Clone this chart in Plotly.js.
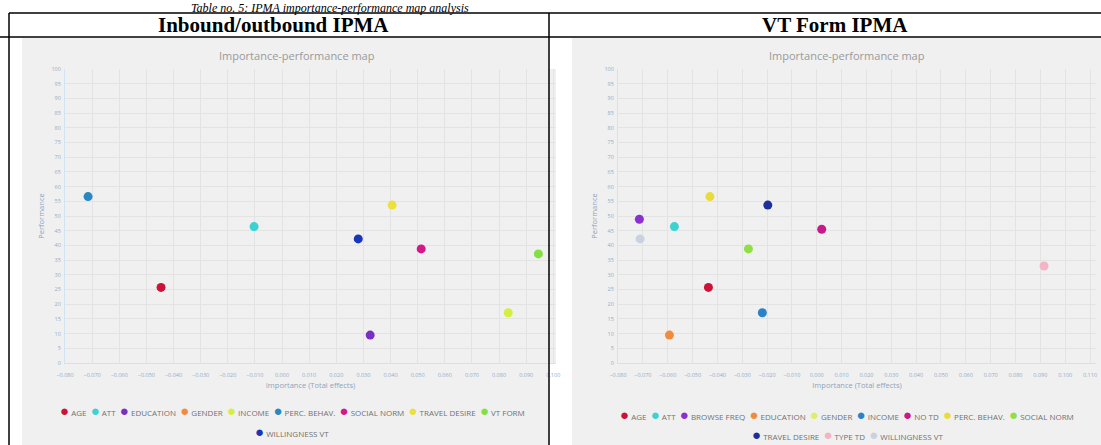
<!DOCTYPE html>
<html>
<head>
<meta charset="utf-8">
<script src="https://cdn.plot.ly/plotly-3.0.1.min.js"></script>
<style>
html,body{margin:0;padding:0;background:#fff;}
#chart{width:1101px;height:445px;}
</style>
</head>
<body>
<div id="chart"></div>
<script>
// ---------- data ----------
const captionText = 'Table no. 5: IPMA importance-performance map analysis';
const leftHeader = 'Inbound/outbound IPMA';
const rightHeader = 'VT Form IPMA';
const chartTitle = 'Importance-performance map';
const xTitle = 'Importance (Total effects)';
const yTitle = 'Performance';

const leftNames = ['AGE','ATT','EDUCATION','GENDER','INCOME','PERC. BEHAV.','SOCIAL NORM','TRAVEL DESIRE','VT FORM','WILLINGNESS VT'];
const leftImportance = [-0.0446, -0.0103, 0.0325, null, 0.0834, -0.0715, 0.0513, 0.0406, 0.0945, 0.0281];
const leftPerformance = [25.7, 46.4, 9.5, null, 17.1, 56.6, 38.8, 53.7, 37.1, 42.2];
const leftColors = ['#cc1238','#3cd2d2','#7a2fc4','#f08c3c','#d6ef3e','#2a88c0','#d4178a','#ece03e','#84e042','#1a36b8'];

const rightNames = ['AGE','ATT','BROWSE FREQ','EDUCATION','GENDER','INCOME','NO TD','PERC. BEHAV.','SOCIAL NORM','TRAVEL DESIRE','TYPE TD','WILLINGNESS VT'];
const rightImportance = [-0.0436, -0.0573, -0.0714, -0.0593, null, -0.0219, 0.0020, -0.0430, -0.0275, -0.0197, 0.0915, -0.0711];
const rightPerformance = [25.7, 46.4, 48.9, 9.5, null, 17.1, 45.5, 56.6, 38.8, 53.7, 33.0, 42.2];
const rightColors = ['#cc1238','#3cd2d2','#8a2fd0','#f08c3c','#dcef6a','#2a82c8','#c8188a','#e8dc3c','#8ee046','#1e2e9a','#f3b4c6','#c9d3df'];

// ---------- helpers ----------
const W = 1101, H = 445;
const px = x => x / W;
const py = y => 1 - y / H;

const traces = [];
function addSeries(names, xs, ys, colors, xa, ya) {
  names.forEach((n, i) => {
    traces.push({
      type: 'scatter', mode: 'markers', name: n,
      x: [xs[i]], y: [ys[i]], xaxis: xa, yaxis: ya,
      marker: {color: colors[i], size: 9},
      showlegend: false, hoverinfo: 'name+x+y'
    });
  });
}
addSeries(leftNames, leftImportance, leftPerformance, leftColors, 'x', 'y');
addSeries(rightNames, rightImportance, rightPerformance, rightColors, 'x2', 'y2');

function legendRows(names, colors, perRow) {
  const rows = [];
  for (let s = 0; s < names.length; s += perRow) {
    rows.push(names.slice(s, s + perRow).map((n, k) =>
      `<span style="color:${colors[s + k]};font-size:15px">●</span> ${n}`).join('  '));
  }
  return rows;
}

const tickFont = {family: 'Open Sans', size: 5.5, color: '#93acc8'};
const titleFont = {family: 'Open Sans', size: 7.5, color: '#8ea3bd'};
function xAxis(domain, range) {
  return {domain, range, dtick: 0.01, tick0: 0, tickformat: '.3f', tickfont: tickFont,
    showgrid: true, gridcolor: '#e3e3e3', gridwidth: 1, zeroline: false,
    showline: true, linecolor: '#f2d8c6', linewidth: 1,
    ticks: 'outside', ticklen: 6, tickcolor: 'rgba(0,0,0,0)',
    title: {text: xTitle, font: titleFont, standoff: 5}, fixedrange: true};
}
function yAxis(domain, anchor) {
  return {domain, range: [0, 100], dtick: 5, tickfont: tickFont, anchor,
    showgrid: true, gridcolor: '#e3e3e3', zeroline: false,
    showline: true, linecolor: '#d3e2f0', linewidth: 1,
    ticks: 'outside', ticklen: 2, tickcolor: 'rgba(0,0,0,0)',
    title: {text: yTitle, font: titleFont, standoff: 5}, fixedrange: true};
}

const yDom = [py(363), py(69)];
const layout = {
  width: W, height: H,
  margin: {l: 0, r: 0, t: 0, b: 0},
  paper_bgcolor: '#ffffff', plot_bgcolor: '#f0f0f0',
  showlegend: false,
  font: {family: 'Open Sans'},
  xaxis: xAxis([px(65), px(556)], [-0.08, 0.101]),
  yaxis: yAxis(yDom, 'x'),
  xaxis2: Object.assign(xAxis([px(618), px(1096)], [-0.08, 0.1124]), {anchor: 'y2'}),
  yaxis2: yAxis(yDom, 'x2'),
  shapes: [
    // screenshot backgrounds
    {type: 'rect', xref: 'paper', yref: 'paper', x0: px(22), x1: px(548), y0: py(445), y1: py(38), fillcolor: '#f0f0f0', line: {width: 0}, layer: 'below'},
    {type: 'rect', xref: 'paper', yref: 'paper', x0: px(572), x1: px(1101), y0: py(445), y1: py(38), fillcolor: '#f0f0f0', line: {width: 0}, layer: 'below'},
    // table lines
    {type: 'line', xref: 'paper', yref: 'paper', x0: px(9), x1: 1, y0: py(13), y1: py(13), line: {color: '#000', width: 1.5}},
    {type: 'line', xref: 'paper', yref: 'paper', x0: 0, x1: 1, y0: py(37), y1: py(37), line: {color: '#000', width: 1.5}},
    {type: 'line', xref: 'paper', yref: 'paper', x0: px(9), x1: px(9), y0: py(13), y1: 0, line: {color: '#000', width: 1.5}},
    {type: 'line', xref: 'paper', yref: 'paper', x0: px(549), x1: px(549), y0: py(13), y1: 0, line: {color: '#000', width: 1.5}}
  ],
  annotations: []
};

const ann = layout.annotations;
ann.push({text: captionText, xref: 'paper', yref: 'paper', x: px(330), y: 1, xanchor: 'center', yanchor: 'top', showarrow: false, borderpad: 0,
  font: {family: 'Liberation Serif', size: 12, color: '#000', style: 'italic'}});
ann.push({text: '<b>' + leftHeader + '</b>', xref: 'paper', yref: 'paper', x: px(273), y: py(25), xanchor: 'center', yanchor: 'middle', showarrow: false,
  font: {family: 'Liberation Serif', size: 21, color: '#000'}});
ann.push({text: '<b>' + rightHeader + '</b>', xref: 'paper', yref: 'paper', x: px(835), y: py(25), xanchor: 'center', yanchor: 'middle', showarrow: false,
  font: {family: 'Liberation Serif', size: 21, color: '#000'}});
[[297], [847]].forEach(([cx]) => ann.push({text: chartTitle, xref: 'paper', yref: 'paper', x: px(cx), y: py(56), xanchor: 'center', yanchor: 'middle', showarrow: false,
  font: {family: 'Open Sans', size: 11, color: '#9a9a9a'}}));

const legFont = {family: 'Open Sans', size: 8, color: '#707070'};
legendRows(leftNames, leftColors, 9).forEach((t, r) => ann.push({text: t, xref: 'paper', yref: 'paper', x: px(292), y: py(410 + r * 21), xanchor: 'center', yanchor: 'middle', showarrow: false, borderpad: 0, font: legFont}));
legendRows(rightNames, rightColors, 9).forEach((t, r) => ann.push({text: t, xref: 'paper', yref: 'paper', x: px(847), y: py(414 + r * 20), xanchor: 'center', yanchor: 'middle', showarrow: false, borderpad: 0, font: legFont}));

Plotly.newPlot('chart', traces, layout, {displayModeBar: false, staticPlot: true});
</script>
</body>
</html>
